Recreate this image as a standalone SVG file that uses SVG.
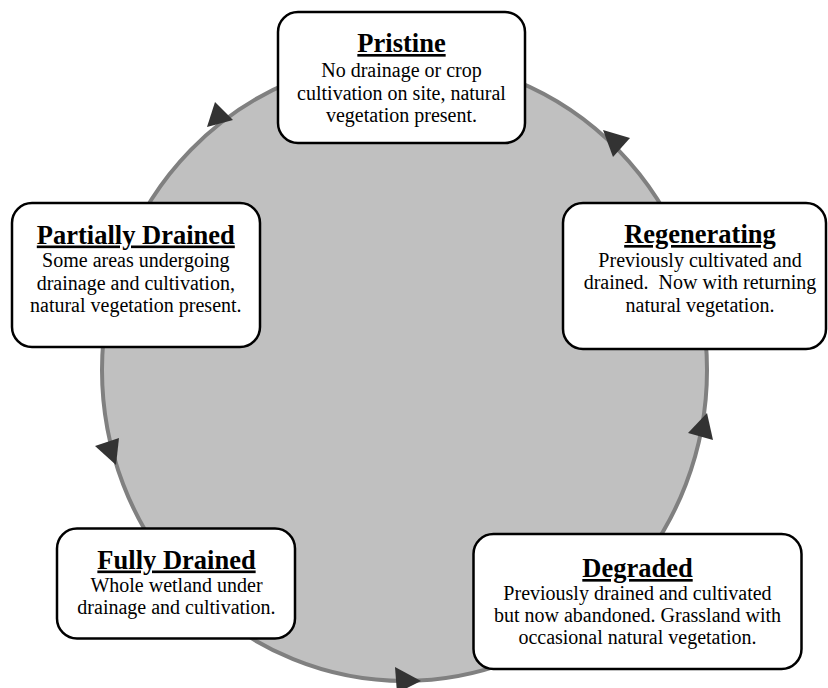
<svg xmlns="http://www.w3.org/2000/svg" width="828" height="688" viewBox="0 0 828 688">
<style>
.box{fill:#fff;stroke:#000;stroke-width:2.5}
.t{font-family:'Liberation Serif','Times New Roman',Times,'DejaVu Serif',serif;font-size:26.5px;font-weight:bold;text-anchor:middle;text-decoration:underline;fill:#000}
.b{font-family:'Liberation Serif','Times New Roman',Times,'DejaVu Serif',serif;font-size:20px;text-anchor:middle;fill:#000;white-space:pre}
.arr{fill:#333}
</style>
<rect width="828" height="688" fill="#fff"/>
<g id="connectors">
<ellipse cx="404.5" cy="370" rx="302.5" ry="311" fill="#c0c0c0" stroke="#808080" stroke-width="4"/>
<polygon class="arr" points="215,102 233,120 207,127"/>
<polygon class="arr" points="603,130 630,138 613,157"/>
<polygon class="arr" points="95,446 119,438 116,465"/>
<polygon class="arr" points="707,413 713,440 688,433"/>
<polygon class="arr" points="395,667 421,681 397,693"/>
</g>
<g id="pristine">
<rect class="box" x="278" y="12" width="247" height="131" rx="20"/>
<text class="t" x="401.5" y="52">Pristine</text>
<text class="b" x="401.5" y="77">No drainage or crop</text>
<text class="b" x="401.5" y="100">cultivation on site, natural</text>
<text class="b" x="401.5" y="122">vegetation present.</text>
</g>
<g id="partially-drained">
<rect class="box" x="12" y="203" width="248" height="144" rx="20"/>
<text class="t" x="135.8" y="243.5">Partially Drained</text>
<text class="b" x="135.8" y="267">Some areas undergoing</text>
<text class="b" x="135.8" y="289.5">drainage and cultivation,</text>
<text class="b" x="135.8" y="312">natural vegetation present.</text>
</g>
<g id="regenerating">
<rect class="box" x="563" y="203" width="263" height="146" rx="20"/>
<text class="t" x="700" y="243">Regenerating</text>
<text class="b" x="700" y="266.5">Previously cultivated and</text>
<text class="b" x="700" y="289">drained.  Now with returning</text>
<text class="b" x="700" y="311.5">natural vegetation.</text>
</g>
<g id="fully-drained">
<rect class="box" x="57" y="528.5" width="238" height="110" rx="20"/>
<text class="t" x="176.5" y="568.5">Fully Drained</text>
<text class="b" x="176.5" y="592">Whole wetland under</text>
<text class="b" x="176.5" y="614">drainage and cultivation.</text>
</g>
<g id="degraded">
<rect class="box" x="473.5" y="534" width="328" height="135" rx="20"/>
<text class="t" x="637.5" y="577">Degraded</text>
<text class="b" x="637.5" y="600">Previously drained and cultivated</text>
<text class="b" x="637.5" y="622">but now abandoned. Grassland with</text>
<text class="b" x="637.5" y="643.5">occasional natural vegetation.</text>
</g>
</svg>
